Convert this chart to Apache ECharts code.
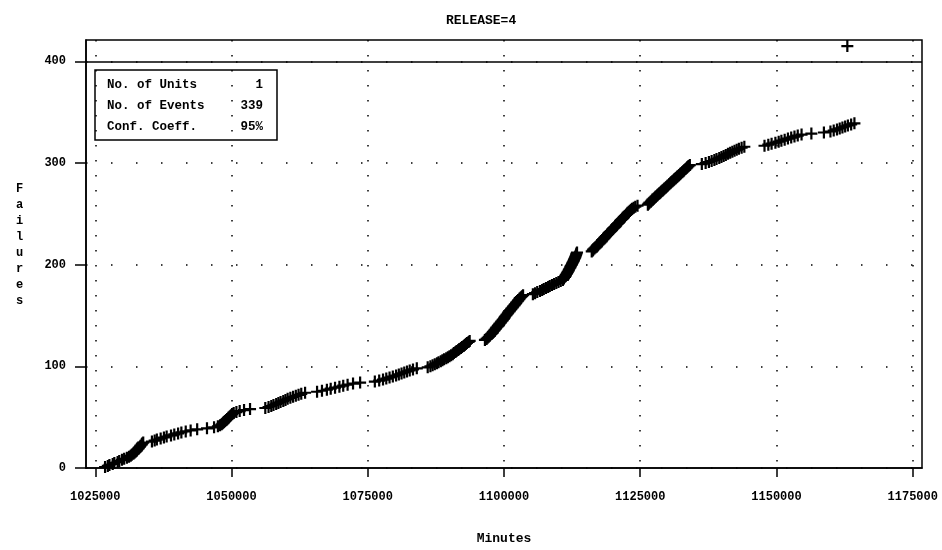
<!DOCTYPE html>
<html><head><meta charset="utf-8">
<script src="https://cdn.jsdelivr.net/npm/echarts@6/dist/echarts.min.js"></script>
<style>html,body{margin:0;padding:0;background:#fff}#c{width:942px;height:550px}</style>
</head><body><div id="c"></div>
<script>
// Tick labels
const xTickValues = [1025000, 1050000, 1075000, 1100000, 1125000, 1150000, 1175000];
const yTickValues = [0, 100, 200, 300, 400];

// Failure times (minutes), grouped by visible cluster.
const timesA = [1026800,1027300,1027600,1028200,1028500,1029100,1029400,1029900,1030300,1030800,1031200,1031500,1031700,1032000,1032200,1032400,1032600,1032700,1032900,1033000,1033200,1033300,1033500,1033600,1033800];
const timesB = [1035400,1035900,1036300,1037000,1037600,1038100,1038900,1039500,1040200,1040800,1041600,1042500,1043700];
const timesC = [1045500,1046800,1047500,1047900,1048200,1048400,1048600,1048800,1049000,1049200,1049400,1049500,1049700,1049900,1050100,1050400,1050900,1051500,1052300,1053400];
const timesD = [1056200,1056800,1057300,1057700,1058200,1058600,1059000,1059500,1059900,1060300,1060800,1061300,1061800,1062300,1062800,1063500];
const timesE = [1065700,1066600,1067500,1068200,1069000,1069800,1070500,1071300,1072300,1073600];
const timesF = [1076300,1077100,1077800,1078400,1079000,1079600,1080200,1080700,1081200,1081700,1082200,1082700,1083300,1084000];
const timesG = [1086000,1086500,1086900,1087300,1087700,1088000,1088400,1088700,1089000,1089400,1089700,1090000,1090300,1090600,1090800,1091100,1091300,1091600,1091800,1092100,1092300,1092600,1092800,1093000,1093200,1093500,1093700];
const timesH = [1096500,1096800,1097000,1097200,1097400,1097500,1097700,1097900,1098000,1098200,1098300,1098500,1098600,1098800,1098900,1099100,1099200,1099400,1099500,1099700,1099800,1100000,1100100,1100200,1100400,1100500,1100700,1100800,1101000,1101100,1101300,1101400,1101600,1101700,1101900,1102000,1102200,1102300,1102500,1102600,1102800,1102900,1103100,1103300,1103500];
const timesI = [1105300,1105700,1106100,1106600,1107000,1107300,1107700,1108100,1108400,1108800,1109200,1109600,1110000,1110400,1110800];
const timesJ = [1110900,1111000,1111200,1111300,1111350,1111500,1111600,1111700,1111850,1111900,1112000,1112150,1112200,1112300,1112450,1112500,1112600,1112700,1112800,1112850,1112950,1113050,1113100,1113200,1113250,1113300,1113400];
const timesK = [1116100,1116300,1116400,1116600,1116800,1117000,1117100,1117300,1117500,1117700,1117900,1118000,1118200,1118400,1118500,1118700,1118900,1119100,1119200,1119400,1119600,1119800,1119900,1120100,1120300,1120500,1120600,1120800,1121000,1121200,1121300,1121500,1121700,1121900,1122000,1122200,1122400,1122600,1122700,1122900,1123100,1123300,1123500,1123800,1124100,1124500];
const timesL = [1126400,1126550,1126700,1126950,1127100,1127250,1127500,1127700,1127850,1128100,1128250,1128500,1128700,1128850,1129100,1129300,1129450,1129700,1129900,1130050,1130300,1130500,1130650,1130900,1131100,1131250,1131500,1131700,1131850,1132100,1132300,1132450,1132700,1132900,1133050,1133300,1133500,1133650,1133850,1134100];
const timesM = [1136300,1137000,1137600,1138100,1138600,1139000,1139500,1139900,1140300,1140700,1141100,1141500,1141900,1142300,1142700,1143100,1143600,1144100];
const timesN = [1147800,1148500,1149100,1149800,1150400,1150900,1151500,1152100,1152700,1153300,1153900,1154600];
const timesO = [1156400,1158700,1159900,1160500,1161100,1161600,1162100,1162600,1163100,1163700,1164300];
const outlierPoint = [1163000, 415];

const legendLabels = ['No. of Units', 'No. of Events', 'Conf. Coeff.'];
const legendValues = ['1', '339', '95%'];

// cumulative failure count = rank of each failure time
const failureTimes = [].concat(timesA,timesB,timesC,timesD,timesE,timesF,timesG,timesH,timesI,timesJ,timesK,timesL,timesM,timesN,timesO);
const points = failureTimes.map((m, i) => [m, i + 1]);
points.push(outlierPoint);

const FONT = '"Liberation Mono", "DejaVu Sans Mono", monospace';
const plusPath = 'path://M4.9,0H7.1V4.9H12V7.1H7.1V12H4.9V7.1H0V4.9H4.9Z';

const legendText = legendLabels.map((l, i) => '{l|' + l + '}{v|' + legendValues[i] + '}').join('\n');

const chart = echarts.init(document.getElementById('c'), null, {renderer: 'canvas'});
chart.setOption({
  animation: false,
  backgroundColor: '#fff',
  textStyle: {fontFamily: FONT, color: '#000'},
  title: [
    {text: 'RELEASE=4', left: 441, top: 9,
     textStyle: {fontFamily: FONT, fontSize: 13, fontWeight: 'bold', color: '#000'}},
    {text: 'F\na\ni\nl\nu\nr\ne\ns', left: 11, top: 176,
     textStyle: {fontFamily: FONT, fontSize: 12, fontWeight: 'bold', color: '#000', lineHeight: 16}},
    {text: legendText, left: 95, top: 70, borderColor: '#000', borderWidth: 1.5,
     padding: [4, 14, 3, 12],
     textStyle: {fontFamily: FONT, fontSize: 12.5, color: '#000', lineHeight: 21,
       rich: {
         l: {fontFamily: FONT, fontSize: 12.5, fontWeight: 'bold', width: 126, align: 'left', lineHeight: 21},
         v: {fontFamily: FONT, fontSize: 12.5, fontWeight: 'bold', width: 30, align: 'right', lineHeight: 21}
       }}}
  ],
  grid: {left: 86, right: 20, top: 40, bottom: 74, show: true, borderColor: '#000', borderWidth: 1.5},
  xAxis: {
    type: 'value', min: 1023300, max: 1176700,
    name: 'Minutes', nameLocation: 'middle', nameGap: 64,
    nameTextStyle: {fontFamily: FONT, fontSize: 13, fontWeight: 'bold', color: '#000'},
    axisLine: {show: true, lineStyle: {color: '#000', width: 1.5}},
    axisTick: {show: true, inside: false, length: 9, customValues: xTickValues, lineStyle: {color: '#000', width: 1.5}},
    axisLabel: {customValues: xTickValues, margin: 23, fontFamily: FONT, fontSize: 12, fontWeight: 'bold', color: '#000',
      formatter: v => String(v)},
    splitLine: {show: true, lineStyle: {color: '#000', width: 1.5, type: [1.5, 13.5]}}
  },
  yAxis: {
    type: 'value', min: 0, max: 421,
    axisLine: {show: true, lineStyle: {color: '#000', width: 1.5}},
    axisTick: {show: true, inside: false, length: 11, customValues: yTickValues, lineStyle: {color: '#000', width: 1.5}},
    axisLabel: {customValues: yTickValues, margin: 20, fontFamily: FONT, fontSize: 12, fontWeight: 'bold', color: '#000'},
    splitLine: {show: true, lineStyle: {color: '#000', width: 1.5, type: [1.5, 23.5]}}
  },
  series: [{
    type: 'scatter',
    data: points,
    symbol: plusPath,
    symbolSize: 12,
    itemStyle: {color: '#000', opacity: 1},
    markLine: {
      silent: true, symbol: 'none', label: {show: false},
      lineStyle: {color: '#000', width: 1.5, type: 'solid'},
      data: [{yAxis: 400}]
    }
  }]
});
</script>
</body></html>
